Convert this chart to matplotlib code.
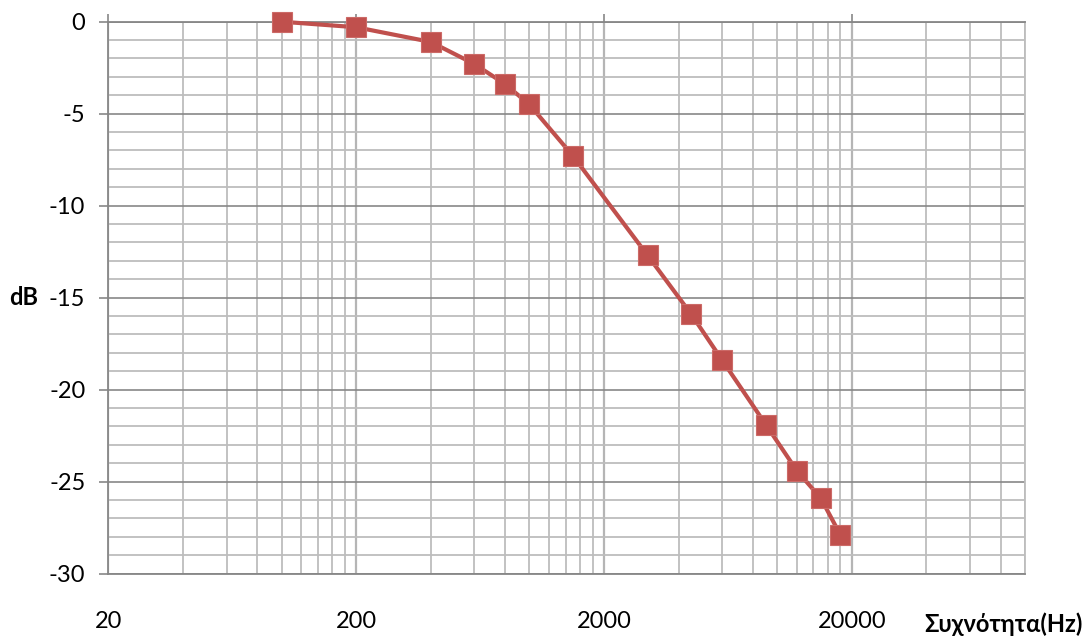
import matplotlib
matplotlib.use("Agg")
import matplotlib.pyplot as plt
import numpy as np
from matplotlib.ticker import FixedLocator, FixedFormatter, MultipleLocator

# data
freq = [100, 200, 400, 600, 800, 1000, 1500, 3000, 4500, 6000, 9000, 12000, 15000, 18000]
db = [0, -0.3, -1.1, -2.3, -3.4, -4.5, -7.3, -12.7, -15.9, -18.4, -21.9, -24.4, -25.9, -27.9]

x_major = [20, 200, 2000, 20000]
x_labels = ["20", "200", "2000", "20000"]
y_major = [0, -5, -10, -15, -20, -25, -30]

plt.rcParams['font.family'] = ['Lato', 'Open Sans', 'DejaVu Sans']
plt.rcParams['axes.unicode_minus'] = False

fig = plt.figure(figsize=(10.87, 6.4), dpi=100)
ax = fig.add_axes([0.0996, 0.1036, 0.8434, 0.8625])

red = '#C0504D'
ax.plot(freq, db, color=red, lw=3, marker='s', ms=15,
        markerfacecolor=red, markeredgecolor='#CC6A67', markeredgewidth=0.8,
        zorder=5, clip_on=False)

ax.set_xscale('log')
ax.set_xlim(20, 100000)
ax.set_ylim(-30, 0)

# excel style minor grid: 20*k for k = 2..9 in every decade
minor_x = [m * k for m in x_major for k in range(2, 10) if m * k <= 100000]
ax.xaxis.set_major_locator(FixedLocator(x_major))
ax.xaxis.set_major_formatter(FixedFormatter(x_labels))
ax.xaxis.set_minor_locator(FixedLocator(minor_x))
ax.xaxis.set_minor_formatter(FixedFormatter([""] * len(minor_x)))

ax.yaxis.set_major_locator(FixedLocator(y_major))
ax.yaxis.set_minor_locator(MultipleLocator(1))

ax.grid(True, axis='x', which='major', color='#B5B5B5', lw=1.6)
ax.grid(True, axis='x', which='minor', color='#BDBDBD', lw=1.3)
ax.grid(True, axis='y', which='minor', color='#BDBDBD', lw=1.3)
ax.grid(True, axis='y', which='major', color='#878787', lw=1.2)
ax.set_axisbelow(True)

ax.tick_params(axis='x', which='major', bottom=False, top=True, labelbottom=True,
               labeltop=False, direction='out', length=6, width=1.2, color='#878787',
               labelsize=17, pad=21)
ax.tick_params(axis='x', which='minor', bottom=False, top=False)
ax.tick_params(axis='y', which='major', left=True, direction='out', length=6.5,
               width=1.2, color='#878787', labelsize=17, pad=10)
ax.tick_params(axis='y', which='minor', left=False)

for side in ['left', 'top', 'bottom']:
    ax.spines[side].set_color('#878787')
    ax.spines[side].set_linewidth(1.3)
ax.spines['right'].set_color('#BDBDBD')
ax.spines['right'].set_linewidth(1.3)

ax.set_ylabel('dB', rotation=0, fontsize=17, fontweight='bold', ha='center', va='center')
ax.yaxis.set_label_coords(-0.092, 0.5)
ax.set_xlabel('Συχνότητα(Hz)', fontsize=17, fontweight='bold', ha='right', va='center')
ax.xaxis.set_label_coords(1.063, -0.091)

fig.savefig('out.png', dpi=100)
